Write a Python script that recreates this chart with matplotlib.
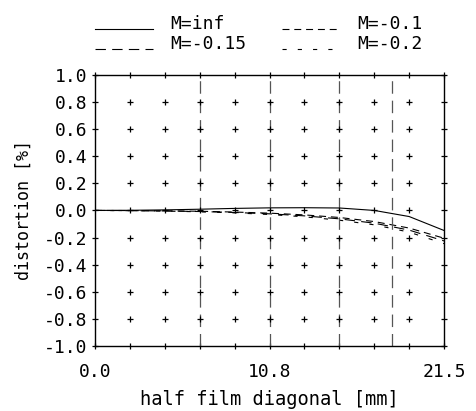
import matplotlib
matplotlib.use("Agg")
import matplotlib.pyplot as plt
from matplotlib.lines import Line2D
import numpy as np

# ---- data ------------------------------------------------------------------
x_max = 21.5
field_frac = [0.0, 0.1, 0.2, 0.3, 0.4, 0.5, 0.6, 0.7, 0.8, 0.9, 1.0]
dist_inf = [0.0, 0.001, 0.004, 0.009, 0.015, 0.019, 0.020, 0.018, 0.000, -0.045, -0.148]
dist_m010 = [0.0, -0.001, -0.003, -0.006, -0.012, -0.020, -0.033, -0.052, -0.082, -0.130, -0.205]
dist_m015 = [0.0, -0.001, -0.004, -0.008, -0.015, -0.025, -0.040, -0.062, -0.094, -0.145, -0.225]
dist_m020 = [0.0, -0.002, -0.005, -0.010, -0.018, -0.030, -0.047, -0.072, -0.106, -0.160, -0.245]
labels = ["M=inf", "M=-0.1", "M=-0.15", "M=-0.2"]
field_lines = [0.3, 0.5, 0.7, 0.85]   # relative field positions (dashed verticals)
y_ticks = [-1.0, -0.8, -0.6, -0.4, -0.2, 0.0, 0.2, 0.4, 0.6, 0.8, 1.0]
x_ticklabels = ["0.0", "10.8", "21.5"]

plt.rcParams["font.family"] = ["DejaVu Sans Mono"]
plt.rcParams["lines.scale_dashes"] = False

fig = plt.figure(figsize=(4.77, 4.11), dpi=100)
ax = fig.add_axes([0.199, 0.158, 0.732, 0.66])

xs = np.array(field_frac) * x_max
styles = [
    dict(linestyle="-"),
    dict(dashes=(5, 3.5)),
    dict(dashes=(7.5, 4.5)),
    dict(dashes=(3, 8)),
]
series = [dist_inf, dist_m010, dist_m015, dist_m020]
for ys, st in zip(series, styles):
    ax.plot(xs, ys, color="black", linewidth=0.8, **st)

# relative field markers
for f in field_lines:
    ax.axvline(f * x_max, color="#555555", linewidth=0.9, dashes=(9, 5))

# "+" grid markers
gx, gy = np.meshgrid(np.array(field_frac[1:-1]) * x_max, y_ticks[1:-1])
ax.plot(gx.ravel(), gy.ravel(), linestyle="none", marker="+", markersize=4,
        markeredgewidth=0.9, color="black")

ax.set_xlim(0, x_max)
ax.set_ylim(-1.0, 1.0)
ax.set_xticks(xs)
ax.set_xticklabels([x_ticklabels[0]] + [""] * 4 + [x_ticklabels[1]] + [""] * 4 + [x_ticklabels[2]])
ax.set_yticks(y_ticks)
ax.set_yticklabels([f"{v:.1f}" for v in y_ticks])
ax.tick_params(direction="inout", length=5, width=0.9, top=True, right=True,
               labelsize=13, color="black")
ax.tick_params(axis="x", pad=10)
ax.tick_params(axis="y", pad=3)
for sp in ax.spines.values():
    sp.set_linewidth(1.0)

ax.set_xlabel("half film diagonal [mm]", fontsize=13.5, labelpad=6)
ax.set_ylabel("distortion [%]", fontsize=12, labelpad=8)

# legend drawn in figure pixels (2 columns, line sample then label)
W, H = 477, 411
legend_pos = [(95, 29), (282, 29), (95, 49), (282, 49)]
order = [0, 1, 2, 3]
for (lx, ly), i in zip(legend_pos, order):
    fig.add_artist(Line2D([lx / W, (lx + 58) / W], [1 - ly / H, 1 - ly / H],
                          color="black", linewidth=0.8, **styles[i]))
    fig.text((lx + 75) / W, 1 - (ly - 5) / H, labels[i], fontsize=13,
             ha="left", va="center")

fig.savefig("out.png", dpi=100)
